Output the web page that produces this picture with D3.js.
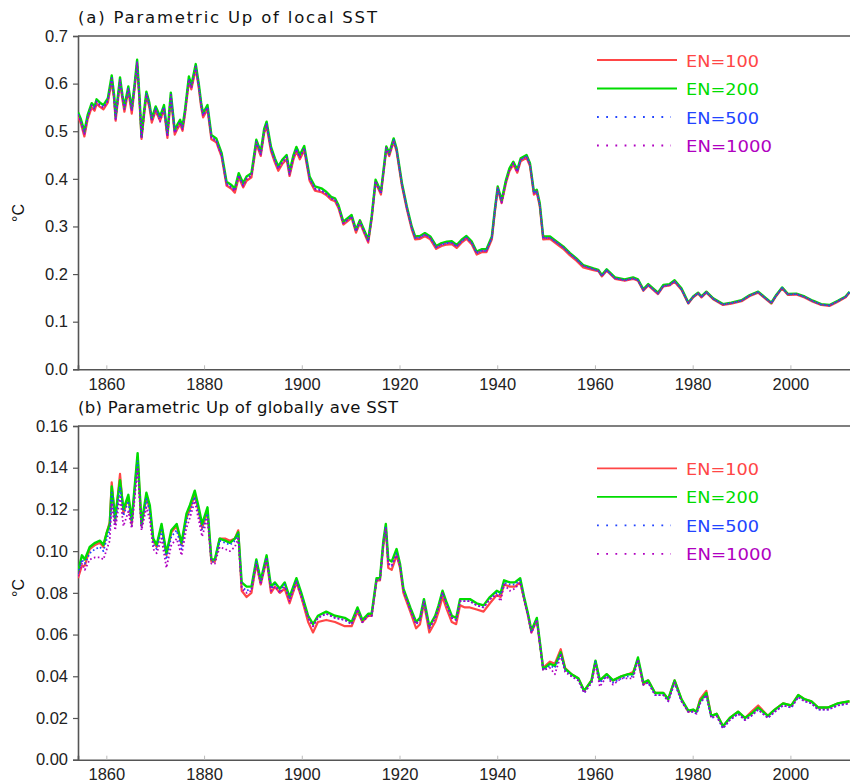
<!DOCTYPE html>
<html>
<head>
<meta charset="utf-8">
<script src="https://cdn.jsdelivr.net/npm/d3@7"></script>
<style>
  body { margin: 0; background: #fff; }
  svg { display: block; }
</style>
</head>
<body>
<svg id="graphic" width="850" height="784"></svg>
<script>
// years, panel (a)
const YEARS_A = [
  1854.2, 1854.8, 1855.5, 1856.2, 1857.0, 1857.6, 1858.0, 1858.7, 1859.4, 1860.3,
  1861.1, 1861.6, 1861.9, 1862.8, 1863.3, 1863.7, 1864.5, 1865.2, 1865.8, 1866.3,
  1866.8, 1867.2, 1867.7, 1868.2, 1868.8, 1869.3, 1870.1, 1871.0, 1871.8, 1872.5,
  1873.2, 1874.0, 1874.6, 1875.1, 1875.6, 1876.1, 1876.9, 1877.4, 1878.3, 1878.9,
  1879.4, 1879.8, 1880.7, 1881.5, 1882.5, 1883.6, 1884.6, 1885.6, 1886.3, 1887.1,
  1888.0, 1888.7, 1889.7, 1890.7, 1891.6, 1892.3, 1892.8, 1893.7, 1894.5, 1895.2,
  1896.0, 1896.9, 1897.5, 1898.3, 1898.9, 1899.6, 1900.5, 1901.6, 1902.7, 1904.0,
  1905.0, 1906.0, 1906.8, 1907.5, 1908.5, 1910.2, 1911.1, 1911.9, 1913.6, 1914.3,
  1915.1, 1916.2, 1917.3, 1917.9, 1918.8, 1919.4, 1920.5, 1921.5, 1922.5, 1923.2,
  1924.2, 1925.2, 1926.3, 1927.5, 1928.6, 1929.7, 1930.7, 1931.7, 1932.7, 1933.7,
  1934.8, 1935.8, 1936.8, 1937.8, 1938.9, 1939.5, 1940.1, 1940.9, 1941.8, 1942.5,
  1943.3, 1944.1, 1944.8, 1946.0, 1946.7, 1947.5, 1948.1, 1948.7, 1949.4, 1950.8,
  1952.2, 1953.5, 1954.9, 1956.2, 1957.6, 1959.7, 1960.7, 1961.4, 1962.4, 1964.1,
  1966.1, 1967.8, 1968.8, 1969.9, 1970.9, 1972.9, 1974.0, 1975.3, 1976.3, 1977.7,
  1979.1, 1980.1, 1981.1, 1981.8, 1982.8, 1984.2, 1986.2, 1987.9, 1990.0, 1991.7,
  1993.4, 1994.8, 1996.1, 1997.1, 1998.3, 1999.5, 2001.2, 2002.9, 2004.6, 2006.3,
  2008.0, 2009.7, 2011.3, 2012.1,
];

const EN100_A = [
  .531, .516, .489, .526, .550, .543, .558, .551, .546, .560,
  .605, .566, .522, .603, .566, .541, .585, .537, .591, .640,
  .561, .484, .531, .574, .551, .518, .543, .522, .546, .486,
  .572, .493, .506, .515, .501, .536, .604, .588, .631, .592,
  .551, .529, .546, .483, .477, .446, .386, .379, .371, .403,
  .382, .396, .403, .473, .448, .496, .510, .458, .434, .417,
  .431, .441, .406, .441, .458, .441, .460, .396, .375, .372,
  .366, .356, .353, .339, .304, .318, .287, .307, .266, .315,
  .392, .367, .462, .448, .478, .458, .385, .336, .294, .273,
  .274, .280, .273, .253, .259, .262, .263, .255, .266, .274,
  .262, .241, .246, .246, .273, .329, .378, .349, .392, .416,
  .430, .413, .437, .444, .427, .367, .371, .343, .273, .274,
  .263, .253, .239, .228, .214, .208, .206, .195, .207, .190,
  .186, .190, .186, .165, .176, .158, .174, .176, .184, .167,
  .138, .151, .159, .151, .161, .147, .135, .138, .143, .154,
  .161, .149, .138, .154, .170, .156, .157, .151, .142, .135,
  .133, .142, .151, .161,
];

const EN200_A = [
  .540, .525, .500, .535, .559, .552, .567, .560, .555, .569,
  .617, .575, .531, .613, .575, .552, .594, .548, .600, .650,
  .570, .489, .540, .583, .560, .527, .552, .531, .555, .495,
  .581, .502, .515, .524, .510, .545, .615, .597, .641, .601,
  .560, .538, .555, .492, .485, .454, .394, .387, .380, .412,
  .391, .405, .412, .482, .457, .505, .520, .467, .443, .426,
  .440, .450, .415, .450, .467, .450, .469, .405, .384, .380,
  .373, .362, .359, .345, .310, .324, .293, .313, .272, .321,
  .398, .373, .468, .454, .485, .464, .391, .342, .300, .279,
  .280, .286, .279, .259, .265, .268, .269, .261, .272, .280,
  .268, .247, .252, .252, .279, .335, .384, .355, .398, .422,
  .436, .419, .443, .450, .433, .373, .377, .349, .279, .279,
  .268, .258, .244, .233, .219, .212, .209, .198, .210, .193,
  .189, .193, .189, .168, .179, .161, .177, .179, .187, .170,
  .140, .153, .161, .153, .163, .149, .137, .140, .145, .156,
  .163, .151, .140, .156, .172, .158, .159, .153, .144, .137,
  .135, .144, .153, .163,
];

const EN500_A = [
  .536, .521, .496, .531, .555, .548, .563, .556, .551, .565,
  .612, .571, .527, .608, .571, .548, .590, .544, .596, .645,
  .566, .486, .536, .579, .556, .523, .548, .527, .551, .491,
  .577, .498, .511, .520, .506, .541, .610, .593, .636, .597,
  .556, .534, .551, .488, .481, .450, .390, .383, .376, .408,
  .387, .401, .408, .478, .453, .501, .516, .463, .439, .422,
  .436, .446, .411, .446, .463, .446, .465, .401, .380, .376,
  .369, .359, .356, .342, .307, .321, .290, .310, .269, .318,
  .395, .370, .465, .451, .482, .461, .388, .339, .297, .276,
  .277, .283, .276, .256, .262, .265, .266, .258, .269, .277,
  .265, .244, .249, .249, .276, .332, .381, .352, .395, .419,
  .433, .416, .440, .447, .430, .370, .374, .346, .276, .276,
  .266, .256, .242, .231, .217, .210, .207, .196, .208, .191,
  .187, .191, .187, .166, .177, .159, .175, .177, .185, .168,
  .139, .152, .160, .152, .162, .148, .136, .139, .144, .155,
  .162, .150, .139, .155, .171, .157, .158, .152, .143, .136,
  .134, .143, .152, .162,
];

const EN1000_A = [
  .534, .519, .494, .529, .553, .546, .561, .554, .549, .563,
  .610, .569, .525, .606, .569, .546, .588, .542, .594, .643,
  .564, .485, .534, .577, .554, .521, .546, .520, .549, .489,
  .575, .496, .509, .518, .504, .539, .608, .591, .634, .595,
  .554, .532, .549, .486, .479, .448, .388, .381, .374, .406,
  .385, .399, .406, .476, .451, .499, .514, .461, .437, .420,
  .434, .444, .409, .444, .461, .444, .463, .399, .378, .375,
  .368, .359, .356, .342, .307, .321, .290, .310, .269, .318,
  .395, .370, .465, .451, .481, .461, .388, .339, .297, .276,
  .277, .283, .276, .256, .262, .265, .266, .258, .269, .277,
  .265, .244, .249, .249, .276, .332, .381, .350, .395, .419,
  .433, .414, .440, .447, .430, .370, .374, .346, .276, .276,
  .266, .256, .242, .231, .217, .210, .207, .196, .208, .191,
  .187, .191, .187, .166, .177, .159, .175, .177, .185, .168,
  .139, .152, .160, .152, .162, .148, .136, .139, .144, .155,
  .162, .150, .139, .155, .171, .157, .158, .152, .143, .136,
  .134, .143, .152, .162,
];

// years, panel (b)
const YEARS_B = [
  1854.2, 1855.0, 1855.6, 1856.6, 1857.7, 1858.7, 1859.4, 1860.1, 1860.7, 1861.1,
  1861.8, 1862.8, 1863.5, 1864.5, 1865.2, 1866.4, 1867.2, 1868.2, 1868.9, 1869.6,
  1870.3, 1871.3, 1872.3, 1873.3, 1874.4, 1875.4, 1876.4, 1877.1, 1878.1, 1878.9,
  1879.6, 1880.7, 1881.5, 1882.2, 1883.2, 1884.3, 1885.3, 1886.3, 1887.0, 1887.7,
  1888.7, 1889.7, 1890.7, 1891.6, 1892.8, 1893.7, 1894.5, 1895.5, 1896.5, 1897.5,
  1898.9, 1899.9, 1901.3, 1902.3, 1903.3, 1905.0, 1906.8, 1908.8, 1910.2, 1911.4,
  1912.4, 1913.6, 1914.3, 1915.3, 1916.0, 1916.7, 1917.2, 1917.7, 1918.4, 1919.4,
  1920.1, 1920.8, 1922.2, 1923.4, 1924.2, 1925.0, 1926.1, 1927.3, 1928.0, 1928.8,
  1929.7, 1930.7, 1931.6, 1932.4, 1933.4, 1934.4, 1935.8, 1937.2, 1938.5, 1939.9,
  1940.7, 1941.4, 1942.6, 1943.6, 1944.7, 1945.5, 1946.3, 1947.0, 1948.1, 1948.7,
  1949.4, 1950.8, 1951.8, 1953.0, 1953.9, 1955.2, 1956.6, 1957.8, 1959.3, 1960.1,
  1961.0, 1962.4, 1963.7, 1965.4, 1966.8, 1967.8, 1968.8, 1969.9, 1970.9, 1972.3,
  1974.0, 1975.0, 1976.3, 1977.7, 1979.1, 1980.1, 1980.8, 1981.5, 1982.8, 1983.8,
  1984.9, 1986.2, 1987.6, 1989.3, 1990.7, 1992.0, 1993.4, 1995.4, 1996.8, 1998.5,
  2000.2, 2001.6, 2002.9, 2004.3, 2005.7, 2007.7, 2009.7, 2012.1,
];

const EN100_B = [
  .087, .093, .093, .101, .103, .104, .102, .109, .114, .133,
  .114, .137, .118, .126, .113, .145, .112, .126, .120, .105,
  .102, .112, .098, .109, .112, .103, .116, .120, .127, .119,
  .111, .119, .095, .095, .106, .106, .105, .106, .110, .081,
  .078, .080, .094, .084, .096, .080, .083, .080, .082, .075,
  .085, .078, .066, .061, .066, .067, .066, .064, .064, .071,
  .066, .069, .069, .086, .086, .103, .111, .092, .091, .098,
  .092, .080, .071, .063, .065, .075, .061, .066, .071, .078,
  .072, .066, .065, .074, .073, .073, .072, .071, .075, .079,
  .078, .084, .083, .083, .085, .077, .069, .061, .067, .056,
  .044, .047, .046, .053, .044, .041, .039, .033, .038, .047,
  .038, .041, .038, .040, .041, .042, .048, .036, .038, .032,
  .032, .029, .038, .029, .023, .024, .023, .029, .033, .021,
  .022, .016, .020, .023, .020, .023, .026, .021, .024, .027,
  .026, .031, .029, .028, .025, .025, .027, .028,
];

const EN200_B = [
  .090, .098, .096, .102, .104, .105, .103, .109, .113, .131,
  .116, .134, .120, .127, .115, .147, .113, .128, .122, .106,
  .103, .113, .099, .110, .113, .104, .118, .122, .129, .121,
  .113, .121, .096, .096, .106, .105, .104, .106, .109, .085,
  .083, .083, .096, .086, .098, .083, .085, .082, .085, .078,
  .087, .080, .069, .065, .069, .071, .069, .068, .066, .073,
  .067, .070, .070, .087, .087, .105, .113, .096, .095, .101,
  .094, .082, .073, .066, .068, .077, .064, .069, .074, .081,
  .075, .069, .068, .077, .077, .077, .075, .074, .078, .081,
  .080, .086, .085, .085, .087, .078, .070, .062, .068, .057,
  .0435, .046, .045, .0515, .0435, .041, .039, .033, .038, .0475,
  .038, .041, .038, .040, .041, .041, .049, .037, .038, .032,
  .032, .029, .038, .029, .0235, .024, .023, .028, .032, .021,
  .022, .016, .020, .023, .020, .022, .025, .021, .024, .027,
  .026, .031, .029, .028, .025, .025, .027, .028,
];

const EN500_B = [
  .089, .096, .094, .099, .101, .102, .100, .106, .110, .128,
  .113, .131, .117, .124, .112, .143, .111, .125, .119, .103,
  .101, .110, .096, .107, .110, .101, .115, .119, .126, .118,
  .110, .118, .095, .095, .105, .104, .103, .105, .108, .083,
  .081, .082, .095, .085, .097, .082, .084, .081, .084, .077,
  .086, .079, .068, .064, .068, .070, .068, .067, .065, .072,
  .066, .069, .069, .086, .086, .104, .112, .094, .093, .099,
  .093, .081, .072, .065, .067, .076, .063, .068, .073, .080,
  .074, .068, .067, .076, .076, .076, .074, .073, .077, .080,
  .079, .085, .084, .084, .086, .077, .069, .061, .067, .056,
  .043, .045, .044, .051, .043, .040, .038, .032, .037, .047,
  .037, .040, .037, .039, .040, .040, .048, .036, .037, .031,
  .031, .028, .037, .028, .023, .023, .022, .027, .031, .020,
  .021, .015, .019, .022, .019, .021, .024, .020, .023, .026,
  .025, .030, .028, .027, .024, .024, .026, .027,
];

const EN1000_B = [
  .088, .094, .091, .096, .097, .097, .096, .101, .105, .123,
  .110, .126, .112, .119, .111, .140, .110, .121, .115, .101,
  .099, .106, .092, .103, .106, .098, .111, .116, .124, .115,
  .107, .116, .094, .094, .102, .101, .100, .102, .106, .082,
  .080, .081, .094, .084, .096, .081, .083, .080, .083, .076,
  .085, .078, .068, .064, .068, .070, .068, .067, .065, .072,
  .066, .069, .069, .086, .086, .104, .111, .094, .093, .098,
  .093, .081, .072, .065, .067, .076, .063, .068, .073, .080,
  .074, .068, .067, .076, .076, .076, .074, .073, .077, .079,
  .076, .084, .081, .082, .085, .077, .069, .061, .067, .056,
  .043, .044, .041, .050, .042, .040, .038, .032, .037, .046,
  .035, .040, .036, .039, .039, .039, .048, .036, .037, .031,
  .031, .028, .037, .028, .023, .023, .022, .027, .031, .020,
  .021, .015, .019, .022, .019, .021, .024, .020, .023, .026,
  .025, .030, .028, .027, .024, .024, .026, .027,
];

const SERIES_NAMES = ['EN=100', 'EN=200', 'EN=500', 'EN=1000'];
const SERIES_COLORS = ['#ff4646', '#00dc00', '#2244ff', '#b000c0'];
const X_TICKS = [1860, 1880, 1900, 1920, 1940, 1960, 1980, 2000];
const Y_TICKS_A = [0, 0.1, 0.2, 0.3, 0.4, 0.5, 0.6, 0.7];
const Y_TICKS_B = [0, 0.02, 0.04, 0.06, 0.08, 0.1, 0.12, 0.14, 0.16];
const TITLE_A = '(a) Parametric Up of local SST';
const TITLE_B = '(b) Parametric Up of globally ave SST';
const UNIT = '°C';

const svg = d3.select('#graphic');
const left = 78;
const right = 851;

const xScale = d3
    .scaleLinear()
    .domain([1854.2, 2012.3])
    .range([left, right - 0.5]);

function drawPanel(cfg) {
  const yScale = d3
      .scaleLinear()
      .domain(cfg.yDomain)
      .range([cfg.bottom, cfg.top]);

  const g = svg.append('g');

  const clipId = `clip-${cfg.key}`;
  g.append('clipPath')
      .attr('id', clipId)
      .append('rect')
      .attr('x', left)
      .attr('y', cfg.top - 2)
      .attr('width', right - left)
      .attr('height', cfg.bottom - cfg.top + 2);

  // frame: top line, left axis, bottom axis
  g.append('line')
      .attr('x1', left).attr('x2', right)
      .attr('y1', cfg.top).attr('y2', cfg.top)
      .attr('stroke', '#555').attr('stroke-width', 1.6);

  const xAxis = d3
      .axisBottom(xScale)
      .tickValues(X_TICKS)
      .tickSize(-4)
      .tickPadding(8.5)
      .tickFormat(d3.format('d'));

  const yAxis = d3
      .axisLeft(yScale)
      .tickValues(cfg.yTicks)
      .tickSize(5)
      .tickPadding(4)
      .tickFormat(d3.format(cfg.fmt));

  const gx = g.append('g')
      .attr('transform', `translate(0, ${cfg.bottom})`)
      .call(xAxis);
  gx.select('.domain').attr('stroke', '#555').attr('stroke-width', 1.6);
  gx.selectAll('.tick line').attr('stroke', '#bbb');
  gx.selectAll('.tick text')
      .attr('font-family', 'Liberation Sans, Arial, sans-serif')
      .attr('font-size', 16.5)
      .attr('fill', '#222');

  const gy = g.append('g')
      .attr('transform', `translate(${left}, 0)`)
      .call(yAxis);
  gy.select('.domain').attr('stroke', '#555').attr('stroke-width', 1.6);
  gy.selectAll('.tick line').attr('stroke', '#555').attr('stroke-width', 1.2);
  gy.selectAll('.tick text')
      .attr('font-family', 'Liberation Sans, Arial, sans-serif')
      .attr('font-size', 16.5)
      .attr('fill', '#222')
      .attr('dx', '-1');

  g.append('text')
      .attr('x', left)
      .attr('y', cfg.top - 13)
      .attr('font-family', 'DejaVu Sans, sans-serif')
      .attr('font-size', 16.5)
      .attr('textLength', cfg.titleLen)
      .attr('lengthAdjust', 'spacing')
      .attr('fill', '#111')
      .text(cfg.title);

  g.append('text')
      .attr('transform', `translate(24, ${cfg.unitY}) rotate(-90)`)
      .attr('text-anchor', 'middle')
      .attr('font-family', 'Liberation Sans, Arial, sans-serif')
      .attr('font-size', 16)
      .attr('fill', '#111')
      .text(UNIT);

  const line = d3
      .line()
      .x((d) => xScale(d.t))
      .y((d) => yScale(d.v));

  const styles = [
    {width: 2.2, dash: null},
    {width: 2.4, dash: null},
    {width: 1.8, dash: '1.6,2.4'},
    {width: 1.8, dash: '1.6,2.4'},
  ];

  const lines = g.append('g').attr('clip-path', `url(#${clipId})`);
  cfg.series.forEach((vals, i) => {
    const pts = cfg.years.map((t, j) => ({t: t, v: vals[j]}));
    lines.append('path')
        .datum(pts)
        .attr('d', line)
        .attr('fill', 'none')
        .attr('stroke', SERIES_COLORS[i])
        .attr('stroke-width', styles[i].width)
        .attr('stroke-dasharray', styles[i].dash)
        .attr('stroke-linejoin', 'round');
  });

  // legend
  const legend = g.append('g');
  SERIES_NAMES.forEach((name, i) => {
    const ly = cfg.legendY + i * 28.5;
    legend.append('line')
        .attr('x1', 597).attr('x2', i < 2 ? 677 : 671)
        .attr('y1', ly).attr('y2', ly)
        .attr('stroke', SERIES_COLORS[i])
        .attr('stroke-width', 1.8)
        .attr('stroke-dasharray', i < 2 ? null : '1.8,7.4');
    legend.append('text')
        .attr('x', 686)
        .attr('y', ly + 6.5)
        .attr('font-family', 'DejaVu Sans, sans-serif')
        .attr('font-size', 16.5)
        .attr('textLength', name.length === 7 ? 86 : 73)
        .attr('lengthAdjust', 'spacingAndGlyphs')
        .attr('fill', SERIES_COLORS[i])
        .text(name);
  });
}

drawPanel({
  key: 'a',
  top: 36,
  bottom: 369.3,
  yDomain: [0, 0.7],
  yTicks: Y_TICKS_A,
  fmt: '.1f',
  title: TITLE_A,
  titleLen: 299,
  unitY: 213,
  legendY: 60,
  years: YEARS_A,
  series: [EN100_A, EN200_A, EN500_A, EN1000_A],
});

drawPanel({
  key: 'b',
  top: 426,
  bottom: 759.7,
  yDomain: [0, 0.16],
  yTicks: Y_TICKS_B,
  fmt: '.2f',
  title: TITLE_B,
  titleLen: 320,
  unitY: 588,
  legendY: 468.3,
  years: YEARS_B,
  series: [EN100_B, EN200_B, EN500_B, EN1000_B],
});
</script>
</body>
</html>
